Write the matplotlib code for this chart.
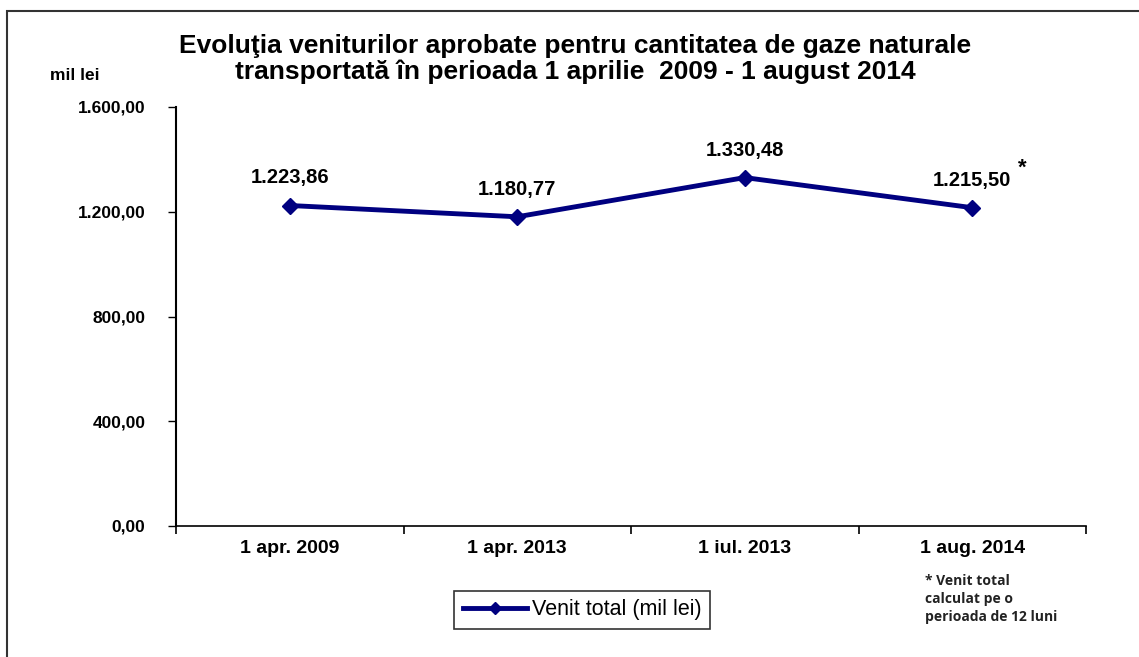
import matplotlib
matplotlib.use("Agg")
import matplotlib.pyplot as plt
from matplotlib.lines import Line2D
from matplotlib.patches import Rectangle

categories = ["1 apr. 2009", "1 apr. 2013", "1 iul. 2013", "1 aug. 2014"]
venit = [1223.86, 1180.77, 1330.48, 1215.50]
labels = ["1.223,86", "1.180,77", "1.330,48", "1.215,50"]
yticks = [0, 400, 800, 1200, 1600]
ytick_labels = ["0,00", "400,00", "800,00", "1.200,00", "1.600,00"]

plt.rcParams["font.family"] = ["Liberation Sans", "DejaVu Sans"]
navy = "#000080"

W, H = 1139, 657
fig = plt.figure(figsize=(W / 100, H / 100), dpi=100)

# outer frame (only top and left visible)
fig.add_artist(Rectangle((7 / W, -0.1), 1.2, 1 - 11 / H + 0.1, transform=fig.transFigure,
                         fill=False, lw=1.5, ec="#333333"))

ax = fig.add_axes([176 / W, 1 - 526 / H, (1086 - 176) / W, (526 - 107) / H])
x = range(len(categories))
ax.plot(x, venit, color=navy, lw=3.5, marker="D", ms=8, mfc=navy, mec=navy)
ax.set_xlim(-0.5, len(categories) - 0.5)
ax.set_ylim(0, 1600)
ax.set_yticks(yticks)
ax.set_yticklabels(ytick_labels, fontsize=12.5, fontweight="bold")
ax.set_xticks([i + 0.5 for i in range(-1, len(categories))])
ax.set_xticklabels([])
ax.set_xticks(list(x), minor=True)
ax.set_xticklabels(categories, minor=True, fontsize=14, fontweight="bold")
ax.tick_params(axis="x", which="minor", length=0, pad=10)
ax.tick_params(axis="x", which="major", length=6, direction="out", width=1.2)
ax.tick_params(axis="y", length=6, width=1, pad=16)
for s in ["top", "right"]:
    ax.spines[s].set_visible(False)
ax.spines["left"].set_linewidth(1.5)
ax.spines["bottom"].set_linewidth(1.2)

for i, (v, lab) in enumerate(zip(venit, labels)):
    ax.annotate(lab, (i, v), xytext=(0, 13), textcoords="offset points", ha="center",
                va="bottom", fontsize=14.5, fontweight="bold")
ax.annotate("*", (3, venit[3]), xytext=(33, 21), textcoords="offset points", ha="left",
            va="bottom", fontsize=16, fontweight="bold")

fig.text(575 / W, 1 - 59 / H, "Evoluţia veniturilor aprobate pentru cantitatea de gaze naturale\n"
         "transportată în perioada 1 aprilie  2009 - 1 august 2014",
         ha="center", va="center", fontsize=19, fontweight="bold", linespacing=1.1)
fig.text(50 / W, 1 - 75 / H, "mil lei", ha="left", va="center", fontsize=12.5, fontweight="bold")

fig.text(925 / W, 1 - 599 / H, "* Venit total\ncalculat pe o\nperioada de 12 luni",
         ha="left", va="center", fontsize=10, fontweight="bold", linespacing=1.4,
         family=["Open Sans", "DejaVu Sans"], color="#222222")

handle = Line2D([], [], color=navy, lw=3.5, marker="D", ms=6)
leg = fig.legend([handle], ["Venit total (mil lei)"], loc="center",
                 bbox_to_anchor=(582 / W, 1 - 610 / H), frameon=True, fancybox=False,
                 edgecolor="black", fontsize=15.5, handlelength=3.0, handletextpad=0.2,
                 borderpad=0.4, borderaxespad=0)
leg.get_frame().set_linewidth(1.2)

fig.savefig("out.png", dpi=100)
